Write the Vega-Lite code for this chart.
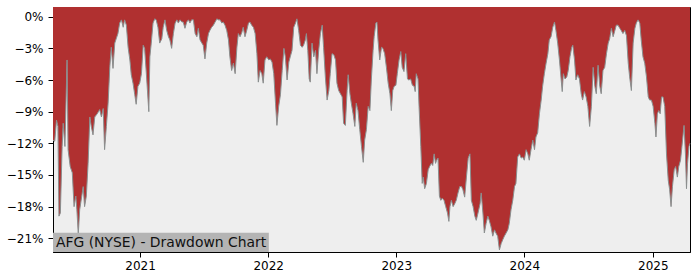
{
  "$schema": "https://vega.github.io/schema/vega-lite/v6.json",
  "width": 637,
  "height": 245,
  "autosize": "none",
  "padding": {"left": 53, "top": 7, "right": 10, "bottom": 28},
  "background": "white",
  "config": {
    "view": {"fill": "#eeeeee", "stroke": "black", "strokeWidth": 1},
    "axis": {"domainColor": "black", "tickColor": "black", "labelColor": "black", "labelFont": "DejaVu Sans", "labelFontSize": 12, "grid": false, "tickSize": 5, "title": null, "domainWidth": 1, "tickWidth": 1}
  },
  "datasets": {
    "dd": [
      {"date": "2020-04-28", "dd": -11.7}, {"date": "2020-05-03", "dd": -11.8}, {"date": "2020-05-08", "dd": -9.8}, {"date": "2020-05-12", "dd": -10.4}, {"date": "2020-05-15", "dd": -18.9}, {"date": "2020-05-19", "dd": -18.6}, {"date": "2020-05-24", "dd": -12.3}, {"date": "2020-05-27", "dd": -10.1}, {"date": "2020-06-01", "dd": -12.3}, {"date": "2020-06-07", "dd": -4.1}, {"date": "2020-06-10", "dd": -12.6}, {"date": "2020-06-16", "dd": -14.2}, {"date": "2020-06-22", "dd": -14.8}, {"date": "2020-06-27", "dd": -18.0}, {"date": "2020-07-02", "dd": -17.0}, {"date": "2020-07-05", "dd": -18.3}, {"date": "2020-07-09", "dd": -20.6}, {"date": "2020-07-13", "dd": -18.3}, {"date": "2020-07-19", "dd": -17.0}, {"date": "2020-07-23", "dd": -16.1}, {"date": "2020-07-27", "dd": -18.0}, {"date": "2020-08-01", "dd": -17.0}, {"date": "2020-08-06", "dd": -13.9}, {"date": "2020-08-11", "dd": -9.5}, {"date": "2020-08-15", "dd": -10.4}, {"date": "2020-08-20", "dd": -11.2}, {"date": "2020-08-25", "dd": -9.5}, {"date": "2020-09-01", "dd": -9.2}, {"date": "2020-09-08", "dd": -8.8}, {"date": "2020-09-13", "dd": -9.5}, {"date": "2020-09-18", "dd": -8.7}, {"date": "2020-09-22", "dd": -12.6}, {"date": "2020-09-27", "dd": -10.4}, {"date": "2020-10-02", "dd": -8.2}, {"date": "2020-10-07", "dd": -4.7}, {"date": "2020-10-11", "dd": -2.9}, {"date": "2020-10-16", "dd": -4.9}, {"date": "2020-10-21", "dd": -2.5}, {"date": "2020-10-25", "dd": -2.1}, {"date": "2020-10-30", "dd": -1.6}, {"date": "2020-11-04", "dd": -0.6}, {"date": "2020-11-09", "dd": -0.3}, {"date": "2020-11-14", "dd": -1.0}, {"date": "2020-11-18", "dd": -0.3}, {"date": "2020-11-23", "dd": -0.8}, {"date": "2020-11-28", "dd": -2.9}, {"date": "2020-12-03", "dd": -4.1}, {"date": "2020-12-07", "dd": -5.5}, {"date": "2020-12-12", "dd": -6.3}, {"date": "2020-12-17", "dd": -7.4}, {"date": "2020-12-21", "dd": -8.3}, {"date": "2020-12-26", "dd": -6.6}, {"date": "2020-12-31", "dd": -6.3}, {"date": "2021-01-05", "dd": -5.4}, {"date": "2021-01-10", "dd": -2.7}, {"date": "2021-01-14", "dd": -3.0}, {"date": "2021-01-19", "dd": -5.4}, {"date": "2021-01-26", "dd": -9.0}, {"date": "2021-01-29", "dd": -3.8}, {"date": "2021-02-02", "dd": -2.5}, {"date": "2021-02-07", "dd": -0.6}, {"date": "2021-02-12", "dd": -0.2}, {"date": "2021-02-16", "dd": -0.3}, {"date": "2021-02-21", "dd": -1.0}, {"date": "2021-02-26", "dd": -2.5},
      {"date": "2021-03-04", "dd": -2.1}, {"date": "2021-03-08", "dd": -1.0}, {"date": "2021-03-13", "dd": -0.3}, {"date": "2021-03-18", "dd": -1.3}, {"date": "2021-03-23", "dd": -1.9}, {"date": "2021-03-27", "dd": -2.2}, {"date": "2021-04-01", "dd": -3.0}, {"date": "2021-04-06", "dd": -1.6}, {"date": "2021-04-11", "dd": -0.6}, {"date": "2021-04-16", "dd": -0.3}, {"date": "2021-04-20", "dd": -0.6}, {"date": "2021-04-25", "dd": -0.3}, {"date": "2021-04-30", "dd": -0.5}, {"date": "2021-05-04", "dd": -0.5}, {"date": "2021-05-09", "dd": -1.1}, {"date": "2021-05-14", "dd": -0.5}, {"date": "2021-05-19", "dd": -0.3}, {"date": "2021-05-23", "dd": -0.6}, {"date": "2021-05-28", "dd": -0.3}, {"date": "2021-06-02", "dd": -0.3}, {"date": "2021-06-07", "dd": -1.6}, {"date": "2021-06-12", "dd": -1.9}, {"date": "2021-06-16", "dd": -1.1}, {"date": "2021-06-21", "dd": -2.2}, {"date": "2021-06-26", "dd": -2.5}, {"date": "2021-06-30", "dd": -2.7}, {"date": "2021-07-05", "dd": -4.0}, {"date": "2021-07-10", "dd": -2.5}, {"date": "2021-07-15", "dd": -1.6}, {"date": "2021-07-19", "dd": -1.3}, {"date": "2021-07-24", "dd": -1.0}, {"date": "2021-07-29", "dd": -0.8}, {"date": "2021-08-03", "dd": -0.5}, {"date": "2021-08-08", "dd": -0.2}, {"date": "2021-08-12", "dd": -0.3}, {"date": "2021-08-17", "dd": -0.3}, {"date": "2021-08-22", "dd": -0.6}, {"date": "2021-08-26", "dd": -0.5}, {"date": "2021-08-31", "dd": -0.8}, {"date": "2021-09-05", "dd": -1.3}, {"date": "2021-09-10", "dd": -2.2}, {"date": "2021-09-14", "dd": -3.8}, {"date": "2021-09-19", "dd": -5.1}, {"date": "2021-09-24", "dd": -4.4}, {"date": "2021-09-29", "dd": -5.4}, {"date": "2021-10-04", "dd": -2.9}, {"date": "2021-10-08", "dd": -1.6}, {"date": "2021-10-13", "dd": -1.9}, {"date": "2021-10-18", "dd": -1.5}, {"date": "2021-10-22", "dd": -1.0}, {"date": "2021-10-27", "dd": -1.9}, {"date": "2021-11-01", "dd": -1.3}, {"date": "2021-11-06", "dd": -0.6}, {"date": "2021-11-10", "dd": -0.5}, {"date": "2021-11-15", "dd": -0.8}, {"date": "2021-11-20", "dd": -1.0}, {"date": "2021-11-25", "dd": -1.6}, {"date": "2021-11-30", "dd": -3.5}, {"date": "2021-12-04", "dd": -6.2}, {"date": "2021-12-09", "dd": -5.1}, {"date": "2021-12-14", "dd": -5.4}, {"date": "2021-12-18", "dd": -6.3}, {"date": "2021-12-23", "dd": -4.1}, {"date": "2021-12-28", "dd": -3.8},
      {"date": "2022-01-03", "dd": -4.1}, {"date": "2022-01-07", "dd": -4.0}, {"date": "2022-01-12", "dd": -4.3}, {"date": "2022-01-17", "dd": -5.4}, {"date": "2022-01-22", "dd": -8.2}, {"date": "2022-01-26", "dd": -10.3}, {"date": "2022-01-31", "dd": -8.5}, {"date": "2022-02-05", "dd": -7.4}, {"date": "2022-02-10", "dd": -5.1}, {"date": "2022-02-15", "dd": -3.0}, {"date": "2022-02-19", "dd": -3.8}, {"date": "2022-02-24", "dd": -6.0}, {"date": "2022-03-01", "dd": -4.3}, {"date": "2022-03-05", "dd": -3.8}, {"date": "2022-03-10", "dd": -3.2}, {"date": "2022-03-15", "dd": -1.0}, {"date": "2022-03-20", "dd": -0.6}, {"date": "2022-03-24", "dd": -0.2}, {"date": "2022-03-29", "dd": -1.3}, {"date": "2022-04-03", "dd": -2.7}, {"date": "2022-04-08", "dd": -2.9}, {"date": "2022-04-12", "dd": -2.7}, {"date": "2022-04-17", "dd": -2.2}, {"date": "2022-04-20", "dd": -1.6}, {"date": "2022-04-24", "dd": -3.2}, {"date": "2022-04-28", "dd": -5.9}, {"date": "2022-05-01", "dd": -6.2}, {"date": "2022-05-06", "dd": -2.5}, {"date": "2022-05-11", "dd": -3.8}, {"date": "2022-05-16", "dd": -3.2}, {"date": "2022-05-20", "dd": -5.4}, {"date": "2022-05-25", "dd": -3.2}, {"date": "2022-05-30", "dd": -1.6}, {"date": "2022-06-04", "dd": -0.8}, {"date": "2022-06-08", "dd": -2.9}, {"date": "2022-06-13", "dd": -5.7}, {"date": "2022-06-18", "dd": -7.9}, {"date": "2022-06-23", "dd": -7.0}, {"date": "2022-06-27", "dd": -5.4}, {"date": "2022-07-02", "dd": -3.5}, {"date": "2022-07-07", "dd": -3.6}, {"date": "2022-07-12", "dd": -4.1}, {"date": "2022-07-16", "dd": -6.3}, {"date": "2022-07-21", "dd": -7.0}, {"date": "2022-07-26", "dd": -7.3}, {"date": "2022-07-31", "dd": -7.6}, {"date": "2022-08-04", "dd": -10.1}, {"date": "2022-08-09", "dd": -10.3}, {"date": "2022-08-14", "dd": -7.0}, {"date": "2022-08-17", "dd": -5.5}, {"date": "2022-08-22", "dd": -7.3}, {"date": "2022-08-26", "dd": -8.2}, {"date": "2022-08-31", "dd": -9.2}, {"date": "2022-09-05", "dd": -10.4}, {"date": "2022-09-09", "dd": -8.2}, {"date": "2022-09-14", "dd": -8.9}, {"date": "2022-09-19", "dd": -10.7}, {"date": "2022-09-24", "dd": -12.3}, {"date": "2022-09-29", "dd": -13.8}, {"date": "2022-10-03", "dd": -11.7}, {"date": "2022-10-08", "dd": -10.7}, {"date": "2022-10-13", "dd": -8.5}, {"date": "2022-10-18", "dd": -8.9}, {"date": "2022-10-22", "dd": -6.0}, {"date": "2022-10-27", "dd": -3.2},
      {"date": "2022-10-30", "dd": -1.9}, {"date": "2022-11-04", "dd": -0.6}, {"date": "2022-11-07", "dd": -0.5}, {"date": "2022-11-10", "dd": -2.2}, {"date": "2022-11-15", "dd": -4.1}, {"date": "2022-11-20", "dd": -2.9}, {"date": "2022-11-24", "dd": -3.0}, {"date": "2022-11-29", "dd": -3.5}, {"date": "2022-12-04", "dd": -4.8}, {"date": "2022-12-09", "dd": -6.3}, {"date": "2022-12-14", "dd": -7.3}, {"date": "2022-12-18", "dd": -8.9}, {"date": "2022-12-22", "dd": -7.0}, {"date": "2022-12-26", "dd": -6.6}, {"date": "2022-12-31", "dd": -6.5}, {"date": "2023-01-04", "dd": -5.4}, {"date": "2023-01-09", "dd": -4.1}, {"date": "2023-01-14", "dd": -3.3}, {"date": "2023-01-18", "dd": -4.8}, {"date": "2023-01-23", "dd": -5.2}, {"date": "2023-01-28", "dd": -3.5}, {"date": "2023-02-02", "dd": -5.9}, {"date": "2023-02-06", "dd": -6.0}, {"date": "2023-02-11", "dd": -5.9}, {"date": "2023-02-16", "dd": -6.5}, {"date": "2023-02-21", "dd": -6.6}, {"date": "2023-02-24", "dd": -7.1}, {"date": "2023-02-27", "dd": -5.4}, {"date": "2023-03-04", "dd": -5.9}, {"date": "2023-03-07", "dd": -8.5}, {"date": "2023-03-12", "dd": -12.3}, {"date": "2023-03-16", "dd": -15.8}, {"date": "2023-03-19", "dd": -15.2}, {"date": "2023-03-23", "dd": -16.3}, {"date": "2023-03-28", "dd": -15.8}, {"date": "2023-04-02", "dd": -14.5}, {"date": "2023-04-06", "dd": -14.2}, {"date": "2023-04-11", "dd": -13.9}, {"date": "2023-04-15", "dd": -14.1}, {"date": "2023-04-19", "dd": -13.0}, {"date": "2023-04-23", "dd": -13.9}, {"date": "2023-04-26", "dd": -13.6}, {"date": "2023-04-30", "dd": -13.4}, {"date": "2023-05-04", "dd": -17.0}, {"date": "2023-05-08", "dd": -17.4}, {"date": "2023-05-12", "dd": -17.2}, {"date": "2023-05-17", "dd": -17.4}, {"date": "2023-05-22", "dd": -18.0}, {"date": "2023-05-27", "dd": -18.6}, {"date": "2023-05-31", "dd": -19.4}, {"date": "2023-06-03", "dd": -18.0}, {"date": "2023-06-07", "dd": -17.4}, {"date": "2023-06-12", "dd": -18.0}, {"date": "2023-06-17", "dd": -17.7}, {"date": "2023-06-21", "dd": -17.4}, {"date": "2023-06-26", "dd": -16.7}, {"date": "2023-07-01", "dd": -16.1}, {"date": "2023-07-06", "dd": -16.1}, {"date": "2023-07-10", "dd": -16.4}, {"date": "2023-07-15", "dd": -17.1}, {"date": "2023-07-20", "dd": -15.2}, {"date": "2023-07-25", "dd": -13.4}, {"date": "2023-07-30", "dd": -13.0}, {"date": "2023-08-03", "dd": -17.4}, {"date": "2023-08-08", "dd": -18.0}, {"date": "2023-08-13", "dd": -18.9}, {"date": "2023-08-17", "dd": -19.3}, {"date": "2023-08-22", "dd": -18.6}, {"date": "2023-08-28", "dd": -17.7},
      {"date": "2023-08-31", "dd": -16.7}, {"date": "2023-09-05", "dd": -18.6}, {"date": "2023-09-09", "dd": -20.5}, {"date": "2023-09-14", "dd": -19.6}, {"date": "2023-09-19", "dd": -18.9}, {"date": "2023-09-23", "dd": -19.3}, {"date": "2023-09-28", "dd": -19.9}, {"date": "2023-10-03", "dd": -20.8}, {"date": "2023-10-08", "dd": -20.2}, {"date": "2023-10-12", "dd": -20.5}, {"date": "2023-10-17", "dd": -20.8}, {"date": "2023-10-22", "dd": -22.1}, {"date": "2023-10-27", "dd": -21.5}, {"date": "2023-11-01", "dd": -21.1}, {"date": "2023-11-05", "dd": -20.8}, {"date": "2023-11-10", "dd": -20.5}, {"date": "2023-11-15", "dd": -20.2}, {"date": "2023-11-19", "dd": -19.6}, {"date": "2023-11-24", "dd": -18.3}, {"date": "2023-11-29", "dd": -17.4}, {"date": "2023-12-04", "dd": -16.1}, {"date": "2023-12-08", "dd": -15.8}, {"date": "2023-12-13", "dd": -13.3}, {"date": "2023-12-18", "dd": -13.0}, {"date": "2023-12-23", "dd": -13.4}, {"date": "2023-12-27", "dd": -13.3}, {"date": "2024-01-01", "dd": -13.6}, {"date": "2024-01-06", "dd": -12.6}, {"date": "2024-01-11", "dd": -13.0}, {"date": "2024-01-15", "dd": -13.6}, {"date": "2024-01-20", "dd": -12.6}, {"date": "2024-01-25", "dd": -11.7}, {"date": "2024-01-30", "dd": -12.6}, {"date": "2024-02-03", "dd": -11.4}, {"date": "2024-02-08", "dd": -11.0}, {"date": "2024-02-13", "dd": -9.2}, {"date": "2024-02-18", "dd": -7.9}, {"date": "2024-02-22", "dd": -6.6}, {"date": "2024-02-27", "dd": -5.4}, {"date": "2024-03-03", "dd": -4.4}, {"date": "2024-03-08", "dd": -3.5}, {"date": "2024-03-12", "dd": -2.2}, {"date": "2024-03-17", "dd": -1.9}, {"date": "2024-03-22", "dd": -1.0}, {"date": "2024-03-27", "dd": -0.5}, {"date": "2024-03-31", "dd": -1.3}, {"date": "2024-04-05", "dd": -2.5}, {"date": "2024-04-10", "dd": -4.1}, {"date": "2024-04-15", "dd": -6.0}, {"date": "2024-04-18", "dd": -7.1}, {"date": "2024-04-21", "dd": -5.4}, {"date": "2024-04-26", "dd": -5.9}, {"date": "2024-05-01", "dd": -5.7}, {"date": "2024-05-05", "dd": -5.1}, {"date": "2024-05-10", "dd": -3.8}, {"date": "2024-05-15", "dd": -2.9}, {"date": "2024-05-18", "dd": -2.7}, {"date": "2024-05-23", "dd": -4.1}, {"date": "2024-05-27", "dd": -6.0}, {"date": "2024-06-01", "dd": -5.5}, {"date": "2024-06-06", "dd": -5.9}, {"date": "2024-06-11", "dd": -7.3}, {"date": "2024-06-15", "dd": -7.9}, {"date": "2024-06-20", "dd": -7.1}, {"date": "2024-06-25", "dd": -7.6}, {"date": "2024-06-30", "dd": -8.5},
      {"date": "2024-07-05", "dd": -10.4}, {"date": "2024-07-10", "dd": -8.5}, {"date": "2024-07-15", "dd": -4.8}, {"date": "2024-07-20", "dd": -6.6}, {"date": "2024-07-24", "dd": -7.3}, {"date": "2024-07-29", "dd": -4.6}, {"date": "2024-08-03", "dd": -6.6}, {"date": "2024-08-07", "dd": -7.3}, {"date": "2024-08-12", "dd": -5.1}, {"date": "2024-08-17", "dd": -4.8}, {"date": "2024-08-22", "dd": -3.5}, {"date": "2024-08-27", "dd": -2.5}, {"date": "2024-08-31", "dd": -2.1}, {"date": "2024-09-05", "dd": -1.1}, {"date": "2024-09-10", "dd": -1.9}, {"date": "2024-09-15", "dd": -1.3}, {"date": "2024-09-19", "dd": -0.8}, {"date": "2024-09-24", "dd": -0.8}, {"date": "2024-09-29", "dd": -1.1}, {"date": "2024-10-03", "dd": -1.3}, {"date": "2024-10-08", "dd": -1.6}, {"date": "2024-10-13", "dd": -1.3}, {"date": "2024-10-18", "dd": -1.8}, {"date": "2024-10-23", "dd": -4.4}, {"date": "2024-10-27", "dd": -5.7}, {"date": "2024-11-01", "dd": -7.0}, {"date": "2024-11-06", "dd": -2.5}, {"date": "2024-11-11", "dd": -1.1}, {"date": "2024-11-15", "dd": -0.6}, {"date": "2024-11-20", "dd": -0.3}, {"date": "2024-11-25", "dd": -0.6}, {"date": "2024-11-29", "dd": -2.2}, {"date": "2024-12-04", "dd": -3.8}, {"date": "2024-12-09", "dd": -4.4}, {"date": "2024-12-14", "dd": -5.7}, {"date": "2024-12-19", "dd": -7.6}, {"date": "2024-12-23", "dd": -7.9}, {"date": "2024-12-28", "dd": -7.9}, {"date": "2025-01-02", "dd": -8.5}, {"date": "2025-01-07", "dd": -10.1}, {"date": "2025-01-10", "dd": -11.4}, {"date": "2025-01-14", "dd": -9.2}, {"date": "2025-01-18", "dd": -8.9}, {"date": "2025-01-22", "dd": -9.2}, {"date": "2025-01-26", "dd": -7.6}, {"date": "2025-01-30", "dd": -7.6}, {"date": "2025-02-04", "dd": -8.5}, {"date": "2025-02-09", "dd": -13.0}, {"date": "2025-02-14", "dd": -15.5}, {"date": "2025-02-18", "dd": -16.4}, {"date": "2025-02-22", "dd": -18.0}, {"date": "2025-02-26", "dd": -16.1}, {"date": "2025-03-03", "dd": -14.5}, {"date": "2025-03-07", "dd": -14.2}, {"date": "2025-03-12", "dd": -15.2}, {"date": "2025-03-16", "dd": -14.2}, {"date": "2025-03-21", "dd": -13.6}, {"date": "2025-03-25", "dd": -12.3}, {"date": "2025-03-31", "dd": -10.3}, {"date": "2025-04-04", "dd": -13.0}, {"date": "2025-04-07", "dd": -16.3}, {"date": "2025-04-10", "dd": -13.9}, {"date": "2025-04-14", "dd": -12.3}, {"date": "2025-04-17", "dd": -12.0}
    ],
    "label": [
      {"date": "2020-04-28", "end": "2022-01-03", "dd": -22.3, "top": -20.48, "base": -21.85, "label": "AFG (NYSE) - Drawdown Chart"}
    ]
  },
  "encoding": {
    "x": {"field": "date", "type": "temporal", "scale": {"domain": ["2020-04-28", "2025-04-17"]}, "axis": {"format": "%Y", "tickCount": {"interval": "year", "step": 1}, "labelPadding": 3}},
    "y": {"field": "dd", "type": "quantitative", "scale": {"domain": [-22.3, 0.92], "nice": false, "zero": false}, "axis": {"values": [0, -3, -6, -9, -12, -15, -18, -21], "labelExpr": "datum.value == 0 ? '0%' : '−' + abs(datum.value) + '%'", "labelPadding": 5}}
  },
  "layer": [
    {
      "data": {"name": "dd"},
      "mark": {"type": "area", "color": "#b03030", "opacity": 1},
      "encoding": {"y2": {"datum": 0.92}}
    },
    {
      "data": {"name": "dd"},
      "mark": {"type": "line", "color": "#8a8f8f", "strokeWidth": 1},
      "encoding": {}
    },
    {
      "data": {"name": "label"},
      "mark": {"type": "rect", "color": "#b4b4b4"},
      "encoding": {"x2": {"field": "end"}, "y2": {"field": "top"}}
    },
    {
      "data": {"name": "label"},
      "mark": {"type": "text", "align": "left", "baseline": "alphabetic", "dx": 3, "font": "DejaVu Sans", "fontSize": 13.9, "color": "#111111"},
      "encoding": {"y": {"field": "base", "type": "quantitative"}, "text": {"field": "label"}}
    }
  ]
}
